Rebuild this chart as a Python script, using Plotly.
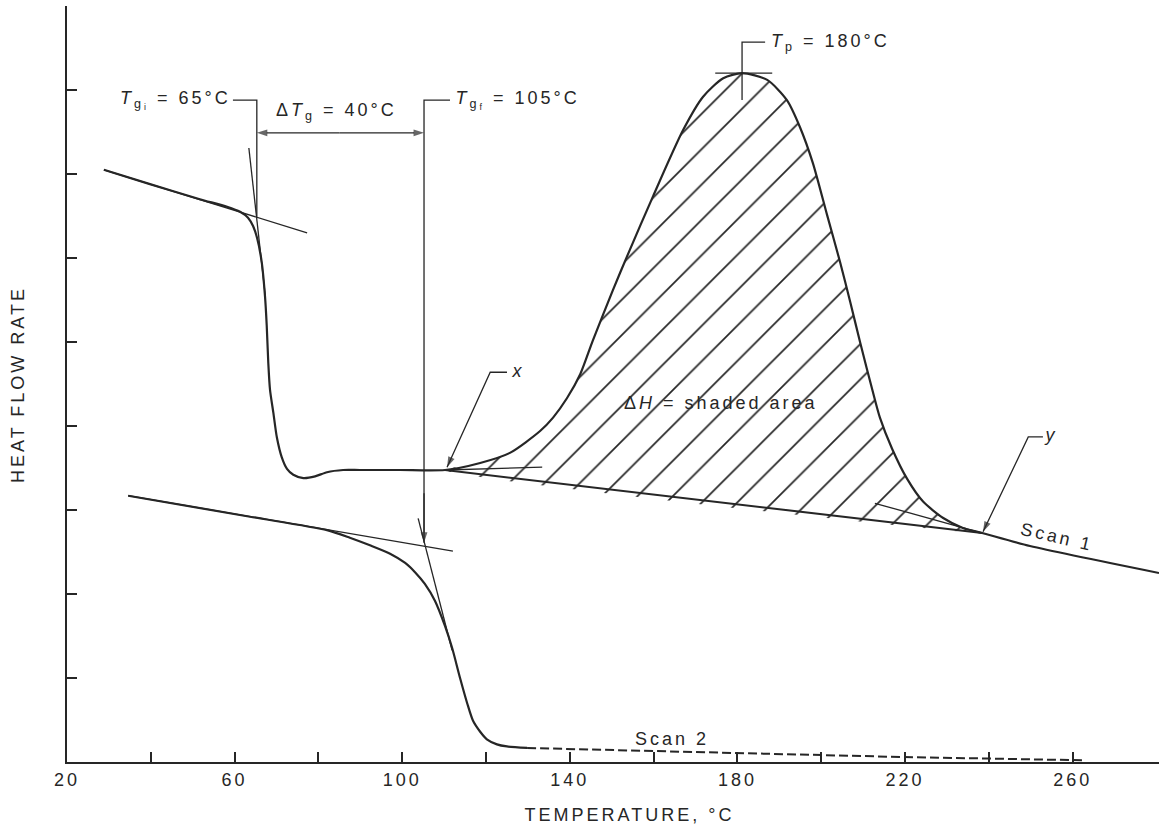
import numpy as np
import plotly.graph_objects as go

# ---------------- data (temperature in °C, heat-flow rate in arbitrary units) ----------------
scan1_T = [28.8, 39.8, 51.7, 58.2, 61.3, 63.2, 64.4, 65.35, 66.5, 67.26, 67.66, 68.04, 68.45,
           69.24, 70.1, 71.24, 72.5, 74.0, 76.4, 79.2, 82.05, 85.9, 89.9, 99.5, 110.2,
           118.6, 125.7, 132.9, 136.0, 139.3, 142.5, 145.5, 150.3, 153.65, 159.9, 167.0, 171.8,
           176.6, 181.1, 187.1, 191.8, 194.9, 198.0, 201.4, 204.5, 206.9, 209.3, 212.4,
           214.0, 216.9, 220.5, 224.3, 229.1, 233.8, 238.4, 249.8, 280.6]
scan1_HF = [7.05, 6.88, 6.70, 6.61, 6.55, 6.48, 6.38, 6.24, 5.94, 5.54, 5.20, 4.75, 4.43,
            4.16, 3.86, 3.63, 3.49, 3.42, 3.38, 3.40, 3.45, 3.476, 3.476, 3.476, 3.476,
            3.56, 3.68, 3.94, 4.10, 4.33, 4.62, 5.02, 5.62, 6.02, 6.74, 7.52, 7.92,
            8.14, 8.20, 8.12, 7.88, 7.56, 7.13, 6.51, 5.95, 5.48, 4.99, 4.39,
            4.10, 3.73, 3.37, 3.10, 2.905, 2.786, 2.726, 2.571, 2.25]

scan2_T = [34.6, 63.7, 82.05, 87.5, 92.3, 97.1, 100.7, 103.05, 105.4, 107.8, 110.2, 111.9,
           113.8, 115.5, 116.9, 118.6, 120.2, 122.6, 125.0, 129.8]
scan2_HF = [3.17, 2.92, 2.76, 2.67, 2.58, 2.48, 2.37, 2.26, 2.12, 1.92, 1.62, 1.36,
            1.00, 0.70, 0.49, 0.36, 0.27, 0.21, 0.185, 0.167]
scan2_tail_T = [129.8, 171.1, 218.8, 263.0]
scan2_tail_HF = [0.167, 0.12, 0.06, 0.02]

# onset (x) and end (y) of the exotherm
onset_T, onset_HF = 110.2, 3.476
end_T, end_HF = 238.4, 2.726

# construction lines
tg1_base_T, tg1_base_HF = [28.8, 77.3], [7.05, 6.30]
tg1_steep_T, tg1_steep_HF = [63.4, 67.3], [7.31, 5.56]
tg2_base_T, tg2_base_HF = [34.6, 112.1], [3.17, 2.51]
tg2_steep_T, tg2_steep_HF = [103.8, 111.9], [2.90, 1.33]
onset_tan_T, onset_tan_HF = [110.2, 133.4], [3.476, 3.51]
end_tan_T, end_tan_HF = [212.8, 238.4], [3.08, 2.726]
tgi_mark_T, tgi_mark_HF = [59.6, 65.3, 65.3], [7.88, 7.88, 6.49]
tgf_mark_T, tgf_mark_HF = [111.4, 105.2, 105.2], [7.88, 7.88, 2.61]
tp_mark_T, tp_mark_HF = [186.6, 181.1, 181.1], [8.57, 8.57, 7.88]
tp_cross_T, tp_cross_HF = [174.7, 188.3], [8.20, 8.20]
x_mark_T, x_mark_HF = [125.0, 121.0, 110.7], [4.64, 4.64, 3.51]
y_mark_T, y_mark_HF = [252.9, 249.4, 238.6], [3.87, 3.87, 2.74]
dtg_left_T, dtg_left_HF = [85.0, 65.3], [7.49, 7.49]
dtg_right_T, dtg_right_HF = [85.0, 105.2], [7.49, 7.49]
tgf_arrow_T, tgf_arrow_HF = [105.2, 105.2], [3.2, 2.61]

x_tickvals = [20, 60, 100, 140, 180, 220, 260]
x_minor_tickvals = [40, 80, 120, 160, 200, 240]
y_tickvals = [1, 2, 3, 4, 5, 6, 7, 8, 9]

# ---------------- figure ----------------
INK = "#262626"
FONT = "Liberation Sans, Arial, sans-serif"
FS = 18
SMOOTH = 0.7

fig = go.Figure()

# shaded area (ΔH) between exotherm and the x–y baseline
t1 = np.array(scan1_T)
h1 = np.array(scan1_HF)
mask = (t1 >= onset_T) & (t1 <= end_T)
poly_T = list(t1[mask]) + [onset_T]
poly_HF = list(h1[mask]) + [onset_HF]
fig.add_trace(go.Scatter(
    x=poly_T, y=poly_HF, mode="lines", fill="toself",
    line=dict(width=0, color="rgba(0,0,0,0)", shape="spline", smoothing=SMOOTH),
    fillcolor="rgba(0,0,0,0)",
    fillpattern=dict(shape="/", size=25, solidity=0.07, fgcolor=INK,
                     bgcolor="rgba(0,0,0,0)", fillmode="replace"),
    hoverinfo="skip", showlegend=False))


def seg(xs, ys, w=1.3, arrow=False):
    if arrow:
        sizes = [0] * (len(xs) - 1) + [11]
        kw = dict(mode="lines+markers",
                  marker=dict(symbol="arrow", size=sizes, angleref="previous",
                              color=INK, line=dict(width=0)))
    else:
        kw = dict(mode="lines")
    fig.add_trace(go.Scatter(x=xs, y=ys, line=dict(color=INK, width=w),
                             hoverinfo="skip", showlegend=False, **kw))


# baseline x -> y
seg([onset_T, end_T], [onset_HF, end_HF], w=2)
# construction lines
for xs, ys in [(tg1_base_T, tg1_base_HF), (tg1_steep_T, tg1_steep_HF),
               (tg2_base_T, tg2_base_HF), (tg2_steep_T, tg2_steep_HF),
               (onset_tan_T, onset_tan_HF), (end_tan_T, end_tan_HF),
               (tgi_mark_T, tgi_mark_HF), (tgf_mark_T, tgf_mark_HF),
               (tp_mark_T, tp_mark_HF), (tp_cross_T, tp_cross_HF)]:
    seg(xs, ys, w=1.3)
# arrows
for xs, ys in [(x_mark_T, x_mark_HF), (y_mark_T, y_mark_HF),
               (dtg_left_T, dtg_left_HF), (dtg_right_T, dtg_right_HF),
               (tgf_arrow_T, tgf_arrow_HF)]:
    seg(xs, ys, w=1.3, arrow=True)

# scans
fig.add_trace(go.Scatter(x=scan1_T, y=scan1_HF, mode="lines",
                         line=dict(color=INK, width=2.2, shape="spline", smoothing=SMOOTH),
                         name="Scan 1", showlegend=False))
fig.add_trace(go.Scatter(x=scan2_T, y=scan2_HF, mode="lines",
                         line=dict(color=INK, width=2.2, shape="spline", smoothing=SMOOTH),
                         name="Scan 2", showlegend=False))
fig.add_trace(go.Scatter(x=scan2_tail_T, y=scan2_tail_HF, mode="lines",
                         line=dict(color=INK, width=2, dash="9px,4px"),
                         name="Scan 2 (cont.)", showlegend=False))

ann = []


def label(x, y, text, angle=0, size=FS):
    ann.append(dict(x=x, y=y, xref="x", yref="y", text=text, showarrow=False,
                    xanchor="center", yanchor="middle", textangle=angle,
                    font=dict(family=FONT, size=size, color=INK)))


label(45.8, 7.88, "<i>T</i><sub>g<sub>i</sub></sub> = 65°C")
label(84.3, 7.75, "Δ<i>T</i><sub>g</sub> = 40°C")
label(127.6, 7.88, "<i>T</i><sub>g<sub>f</sub></sub> = 105°C")
label(202.1, 8.57, "<i>T</i><sub>p</sub> = 180°C")
label(176.3, 4.27, "Δ<i>H</i> = shaded area")
label(127.8, 4.66, "<i>x</i>")
label(254.8, 3.89, "<i>y</i>")
label(256.3, 2.68, "Scan 1", angle=13)
label(164.4, 0.27, "Scan 2")

# axis titles
ann.append(dict(x=(630 - 67) / 1092, y=(762 - 815) / 756, xref="paper", yref="paper",
                text="TEMPERATURE, °C", showarrow=False, xanchor="center", yanchor="middle",
                font=dict(family=FONT, size=FS, color=INK)))
ann.append(dict(x=(18 - 67) / 1092, y=(762 - 385) / 756, xref="paper", yref="paper",
                text="HEAT FLOW RATE", showarrow=False, textangle=-90,
                xanchor="center", yanchor="middle",
                font=dict(family=FONT, size=FS, color=INK)))

fig.update_layout(
    width=1159, height=827,
    margin=dict(l=67, r=0, t=6, b=65),
    paper_bgcolor="white", plot_bgcolor="white",
    annotations=ann,
    showlegend=False,
    xaxis=dict(range=[20, 280.6], tickvals=x_tickvals,
               ticks="inside", ticklen=10, tickwidth=1.5, tickcolor=INK,
               minor=dict(tickvals=x_minor_tickvals, ticks="inside", ticklen=10,
                          tickwidth=1.5, tickcolor=INK, showgrid=False),
               showline=True, linecolor=INK, linewidth=2, showgrid=False, zeroline=False,
               tickfont=dict(family=FONT, size=FS, color=INK)),
    yaxis=dict(range=[0, 9], tickvals=y_tickvals, showticklabels=False,
               ticks="inside", ticklen=10, tickwidth=1.5, tickcolor=INK,
               showline=True, linecolor=INK, linewidth=2, showgrid=False, zeroline=False),
)

post = """
document.body.style.margin = '0';
var gd = document.getElementById('{plot_id}');
gd.querySelectorAll('.annotation-text, .xtick text').forEach(function (t) {
    t.style.letterSpacing = '3px';
});
"""

fig.write_html("out.html", post_script=post, config={"displayModeBar": False})
